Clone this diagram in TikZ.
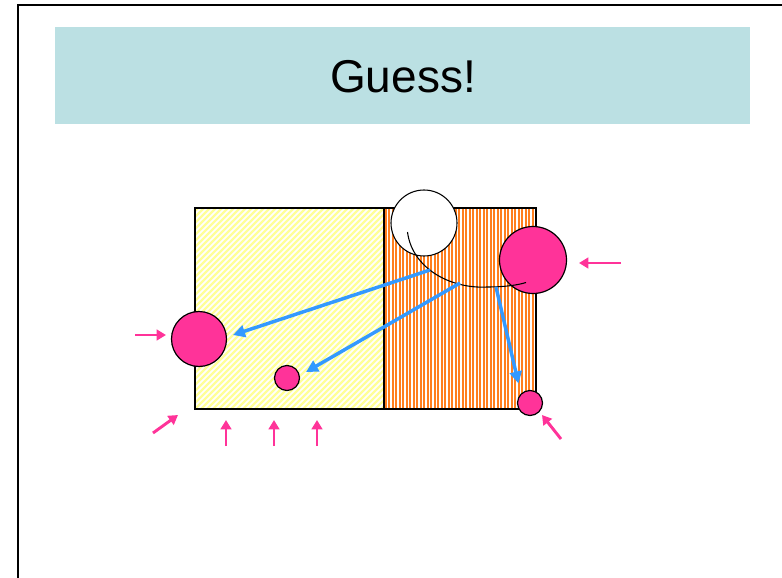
\documentclass[tikz,border=0pt]{standalone}
\usepackage{fontspec}
\setmainfont{Liberation Sans}
\usetikzlibrary{patterns,arrows.meta}
\definecolor{titlebg}{HTML}{BBE0E3}
\definecolor{hotpink}{HTML}{FF3399}
\definecolor{skyblue}{HTML}{3399FF}
\definecolor{lightyellow}{HTML}{FFFF99}
\definecolor{orangeline}{HTML}{FF7F1F}
\tikzset{
  px/.style={x=0.75pt,y=-0.75pt},
  ball/.style={circle,draw=black,line width=0.9pt,fill=hotpink,inner sep=0pt},
  bluearrow/.style={draw=skyblue,line width=2.6pt,-{Triangle[length=9pt,width=9pt]}},
  pinkarrow/.style={draw=hotpink,line width=2.2pt,-{Triangle[length=7pt,width=8pt]}},
}
\begin{document}
\begin{tikzpicture}[px]
\useasboundingbox (0,0) rectangle (782,578);
% frame
\draw[line width=2.2pt] (18,590) -- (18,5) -- (800,5);
% title
\node[fill=titlebg,minimum width=695*0.75pt,minimum height=97*0.75pt,inner sep=0pt,anchor=north west] (title) at (55,27) {};
\node[font=\fontsize{34.5}{40}\selectfont] (titletext) at (403,77) {Guess!};
% regions
\fill[white] (195,208) rectangle (536,409);
\begin{scope}
\clip (195,208) rectangle (384,409);
\foreach \i in {-240,-234,...,200} {
  \draw[lightyellow,line width=1.6pt] (195+\i,409) -- (195+\i+240,409-240);
}
\end{scope}
\begin{scope}
\clip (384,208) rectangle (536,409);
\foreach \i in {385.5,389,...,536} {
  \draw[orangeline,line width=1.5pt] (\i,208) -- (\i,409);
}
\end{scope}
\draw[line width=0.9pt] (195,208) rectangle (536,409);
\draw[line width=0.9pt] (384,208) -- (384,409);
% white ball and arc
\node[circle,draw=black,line width=0.8pt,fill=white,minimum size=66*0.75pt,inner sep=0pt] (wball) at (424,223) {};
\node[ball,minimum size=67*0.75pt] (bigr) at (533,260) {};
\coordinate (arcs) at (407.5,232);
\coordinate (arcm) at (487,287);
\coordinate (arce) at (526,282.5);
\draw[line width=0.8pt] (arcs) .. controls (412,268) and (450,289) .. (arcm) .. controls (505,287) and (518,285) .. (arce);
% pink balls
\node[ball,minimum size=55*0.75pt] (bigl) at (199,339) {};
\node[ball,minimum size=25*0.75pt] (smallm) at (287,378) {};
\node[ball,minimum size=25*0.75pt] (smallr) at (530,403) {};
% blue arrows
\coordinate (b1s) at (430,270);
\coordinate (b1e) at (233,335);
\coordinate (b2s) at (460,283);
\coordinate (b2e) at (306,372);
\coordinate (b3s) at (496,287);
\coordinate (b3e) at (518.5,383.5);
\draw[bluearrow] (b1s) -- (b1e);
\draw[bluearrow] (b2s) -- (b2e);
\draw[bluearrow] (b3s) -- (b3e);
% pink arrows
\coordinate (p1) at (621,263);
\coordinate (p1e) at (579,263);
\draw[pinkarrow] (p1) -- (p1e);
\coordinate (p2) at (135,335);
\coordinate (p2e) at (166,335);
\draw[pinkarrow] (p2) -- (p2e);
\coordinate (p3) at (153,433);
\coordinate (p3e) at (178,415);
\draw[pinkarrow] (p3) -- (p3e);
\foreach \xx [count=\k] in {226,274,317} {
  \coordinate (u\k) at (\xx,446);
  \coordinate (u\k e) at (\xx,420);
  \draw[pinkarrow] (u\k) -- (u\k e);
}
\coordinate (p4) at (561,439);
\coordinate (p4e) at (542,415);
\draw[pinkarrow] (p4) -- (p4e);
\end{tikzpicture}
\end{document}
